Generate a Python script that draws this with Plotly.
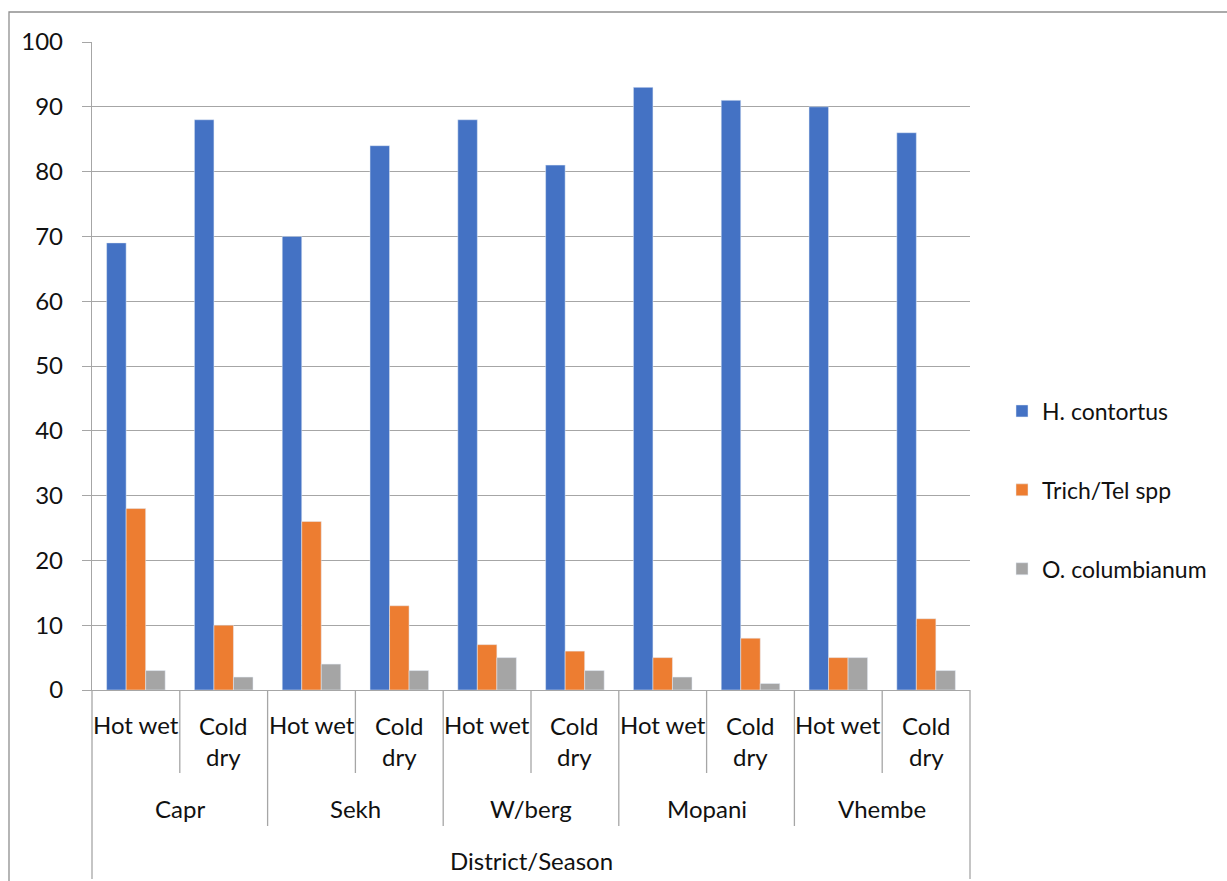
import plotly.graph_objects as go

# Prevalence (%) of nematode genera by district and season
districts = ["Capr", "Sekh", "W/berg", "Mopani", "Vhembe"]
seasons = ["Hot wet", "Cold<br>dry"]
h_contortus = [69, 88, 70, 84, 88, 81, 93, 91, 90, 86]
trich_tel = [28, 10, 26, 13, 7, 6, 5, 8, 5, 11]
o_columbianum = [3, 2, 4, 3, 5, 3, 2, 1, 5, 3]
y_ticks = [0, 10, 20, 30, 40, 50, 60, 70, 80, 90, 100]

series = [
    ("H. contortus", h_contortus, "#4472C4"),
    ("Trich/Tel spp", trich_tel, "#ED7D31"),
    ("O. columbianum", o_columbianum, "#A5A5A5"),
]

FONT = "Lato"
TXT = "#111111"
LINE = "#A6A6A6"
FS = 24

n_cat = len(districts) * len(seasons)
xs = list(range(n_cat))

fig = go.Figure()
for i, (name, vals, col) in enumerate(series):
    fig.add_trace(go.Bar(
        x=xs, y=vals, name=name, marker_color=col,
        legendgroup=name,
    ))

# plot area geometry (pixels) used to place the category-axis furniture
W, H = 1227, 881
ml, mr, mt, mb = 92, 257, 42, 191
ph = H - mt - mb


def py(pix):
    """pixel row -> paper y"""
    return (H - mb - pix) / ph


shapes = []
annotations = []

# boundary lines below the category axis
for k in range(n_cat + 1):
    if k == 0 or k == n_cat:
        bottom = 879
    elif k % len(seasons) == 0:
        bottom = 826
    else:
        bottom = 773
    shapes.append(dict(type="line", xref="paper", yref="paper",
                       x0=k / n_cat, x1=k / n_cat, y0=0, y1=py(bottom),
                       line=dict(color=LINE, width=1.3)))

# season labels
for d in range(len(districts)):
    for s, season in enumerate(seasons):
        idx = d * len(seasons) + s
        two_line = "<br>" in season
        annotations.append(dict(
            x=idx, xref="x", y=py(741 if two_line else 725), yref="paper",
            text=season, showarrow=False, yanchor="middle",
            font=dict(family=FONT, size=FS, color=TXT)))
    # district labels
    annotations.append(dict(
        x=d * len(seasons) + (len(seasons) - 1) / 2, xref="x",
        y=py(808), yref="paper", text=districts[d], showarrow=False,
        yanchor="middle", font=dict(family=FONT, size=FS, color=TXT)))

# axis title
annotations.append(dict(x=0.5, xref="paper", y=py(860), yref="paper",
                        text="District/Season", showarrow=False,
                        yanchor="middle",
                        font=dict(family=FONT, size=FS, color=TXT)))

# chart-area border
shapes.append(dict(type="rect", xref="paper", yref="paper",
                   x0=(9 - ml) / (W - ml - mr), x1=(1240 - ml) / (W - ml - mr),
                   y0=py(900), y1=py(12),
                   line=dict(color="#8F8F8F", width=1.3),
                   fillcolor="rgba(0,0,0,0)", layer="below"))

fig.update_layout(
    width=W, height=H,
    margin=dict(l=ml, r=mr, t=mt, b=mb, autoexpand=False),
    paper_bgcolor="white", plot_bgcolor="white",
    barmode="group", bargap=0.333, bargroupgap=0,
    font=dict(family=FONT, size=FS, color=TXT),
    showlegend=True,
    legend=dict(x=(1002 - ml) / (W - ml - mr), xanchor="left",
                y=py(490), yanchor="middle", tracegroupgap=46,
                font=dict(family=FONT, size=23, color=TXT),
                bgcolor="rgba(0,0,0,0)"),
    xaxis=dict(range=[-0.5, n_cat - 0.5], showticklabels=False,
               showgrid=False, zeroline=False, showline=True,
               linecolor=LINE, linewidth=1.3, ticks="", fixedrange=True),
    yaxis=dict(range=[0, 100], tickvals=y_ticks, showgrid=True,
               gridcolor=LINE, gridwidth=1.3, zeroline=False,
               showline=True, linecolor=LINE, linewidth=1.3,
               ticks="outside", ticklen=9, tickcolor=LINE, tickwidth=1.3,
               ticklabelstandoff=14,
               tickfont=dict(family=FONT, size=FS, color=TXT)),
    shapes=shapes,
    annotations=annotations,
)

fig.write_html("out.html")
